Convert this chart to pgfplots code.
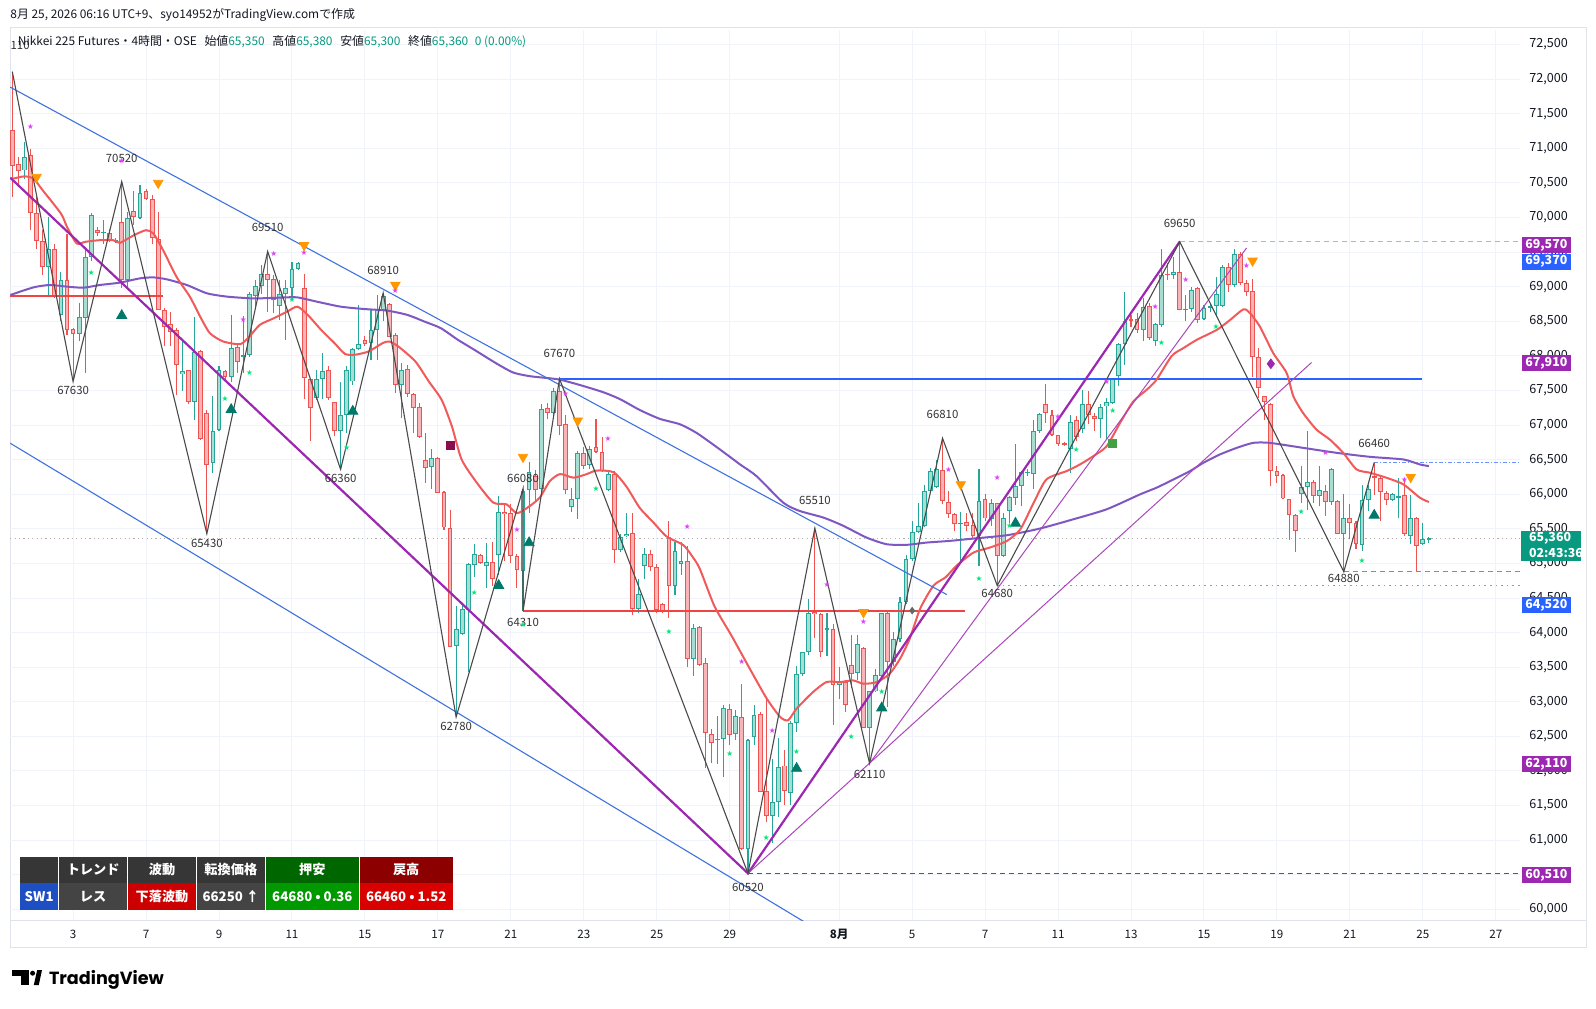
\documentclass[border=0pt]{standalone}
\usepackage{fontspec}
\setmainfont{Noto Sans CJK JP}
\newfontfamily\symfont{DejaVu Sans}
\newfontfamily\logofont{Poppins}
\usepackage{pgfplots}
\usepackage{pgfplotstable}
\pgfplotsset{compat=1.18}
\definecolor{gridc}{HTML}{F0F3FA}
\definecolor{framec}{HTML}{E0E3EB}
\definecolor{upB}{HTML}{26A69A}
\definecolor{upF}{HTML}{A8DDD2}
\definecolor{dnB}{HTML}{EF5350}
\definecolor{dnF}{HTML}{F8B4B7}
\definecolor{maR}{HTML}{F05A5A}
\definecolor{maP}{HTML}{7E57C2}
\definecolor{zig}{HTML}{4A4A4A}
\definecolor{chan}{HTML}{3F72E0}
\definecolor{trP}{HTML}{9C27B0}
\definecolor{hB}{HTML}{2962FF}
\definecolor{hR}{HTML}{EF4444}
\definecolor{triO}{HTML}{FF9800}
\definecolor{triT}{HTML}{00796B}
\definecolor{stM}{HTML}{E040FB}
\definecolor{stG}{HTML}{00E676}
\definecolor{sqM}{HTML}{880E4F}
\definecolor{sqG}{HTML}{43A047}
\definecolor{txt}{HTML}{131722}
\definecolor{tvg}{HTML}{089981}
\definecolor{boxP}{HTML}{9C27B0}
\definecolor{boxB}{HTML}{2962FF}
\definecolor{lbl}{HTML}{333333}
\definecolor{tgray}{HTML}{363636}
\definecolor{tgray2}{HTML}{444444}
\definecolor{swB}{HTML}{1E4FC2}
\tikzset{zl/.style={font=\fontsize{5.7}{6}\selectfont, text=lbl, inner sep=0pt}}

\pgfplotstableread{
i o h l c
0 71260 72110 70300 70750
1 70770 70870 70490 70680
2 70680 71090 70560 70880
3 70900 70990 69820 70070
4 70070 70300 69550 69660
5 69660 69820 69170 69280
6 69280 70010 68860 69550
7 69550 69620 68830 68860
8 68590 69220 68500 69100
9 69100 69770 68300 68380
10 68390 68400 67630 68320
11 68320 68760 68210 68560
12 68550 69580 67760 69430
13 69430 70060 69380 70030
14 69820 69860 69740 69780
15 69780 69960 69620 69790
16 69780 69840 69650 69660
17 69660 69710 69630 69680
18 69940 70520 68980 69100
19 69100 70080 69000 70000
20 70090 70390 69890 70010
21 70000 70470 69980 70350
22 70380 70420 70250 70270
23 70270 70320 69620 69700
24 69690 70080 68660 68670
25 68670 68700 68140 68420
26 68460 68640 68140 68350
27 68380 68400 67440 67870
28 67740 68210 67490 67780
29 67790 67800 67300 67340
30 67340 68570 67080 68060
31 68070 68090 66790 66800
32 67170 67220 65430 66430
33 66450 67420 66310 66910
34 66930 67850 66910 67790
35 67780 67800 67660 67700
36 67700 68590 67630 68110
37 68130 68190 67760 67910
38 67990 68570 67750 68010
39 68010 68930 67990 68900
40 68860 69100 68700 69010
41 69010 69310 68900 69190
42 69190 69510 68640 69100
43 69110 69170 68620 68810
44 68720 69100 68520 68890
45 68890 69100 68230 68980
46 68980 69360 68810 69250
47 69260 69360 69240 69350
48 68980 69190 67370 67680
49 67670 67670 66770 67250
50 67390 67800 67370 67660
51 67660 68040 67370 67780
52 67800 67850 67370 67390
53 67330 67340 66840 66920
54 66920 67630 66360 67150
55 67150 67850 66890 67800
56 67630 68110 67580 68100
57 68100 68740 68090 68170
58 68230 68290 68140 68170
59 68190 68660 67940 68380
60 68380 68880 67940 68660
61 68660 68910 68500 68860
62 68750 68760 68270 68280
63 68300 68330 67460 67580
64 67580 67900 67100 67800
65 67810 67870 67400 67450
66 67450 67460 66890 67250
67 67260 67320 66810 66830
68 66500 66890 66170 66380
69 66400 66660 66070 66530
70 66530 66540 66020 66020
71 66030 66050 65490 65520
72 65520 65780 63790 63800
73 63810 64390 62780 64050
74 63980 64410 63960 64340
75 64320 65010 63430 64990
76 64980 65280 64800 65140
77 65120 65140 64990 65010
78 64960 65300 64640 65020
79 65020 65310 64670 64780
80 65130 65980 64830 65740
81 65740 65880 65030 65710
82 65730 65860 65010 65110
83 65110 65140 64650 64900
84 64890 66080 64310 66050
85 66060 66470 65730 66320
86 66270 66350 65900 66060
87 66080 67300 66030 67230
88 67250 67320 67090 67170
89 67170 67530 67140 67500
90 67500 67670 66860 66990
91 67010 67140 66010 66060
92 65820 66090 65750 65930
93 65930 66630 65650 66600
94 66600 66680 66370 66410
95 66420 66700 66370 66650
96 66680 67090 66600 66610
97 66610 66830 66320 66340
98 66060 66340 66040 66290
99 66290 66330 65000 65200
100 65200 65420 65160 65380
101 65390 65730 65380 65430
102 65440 65730 64260 64340
103 64340 64770 64290 64560
104 64970 65230 64770 65140
105 65140 65190 64890 64950
106 64950 65000 64290 64330
107 64410 64430 64290 64300
108 65380 65620 64210 64670
109 64670 65310 64540 65180
110 65000 65310 64830 65040
111 65040 65260 63510 63620
112 63620 64130 63380 64060
113 64080 64090 63520 63540
114 63560 63640 62040 62550
115 62540 62610 62120 62410
116 62460 62800 62100 62460
117 62460 62960 61920 62910
118 62900 62970 62370 62520
119 62530 62880 62450 62800
120 62780 63260 60860 60880
121 60880 62470 60520 62450
122 62490 62950 62380 62810
123 62830 62850 61690 61700
124 61710 63040 61270 61350
125 61350 62180 60960 61550
126 61550 62470 61340 62060
127 62080 62300 61510 61710
128 61680 62730 61510 62690
129 62690 63520 62570 63400
130 63400 63720 63380 63720
131 63720 64490 63670 64290
132 64300 65510 63930 64270
133 64270 64290 63650 63720
134 64050 64290 63670 64060
135 64050 64130 62660 63250
136 63250 63500 63040 63290
137 63290 63310 62850 62950
138 63530 63960 63200 63410
139 63410 63970 63310 63840
140 63780 63790 62620 62620
141 62620 63160 62110 63150
142 63150 63480 63140 63390
143 63380 64290 63360 64280
144 64280 64300 62930 63570
145 63570 64010 63520 63910
146 63910 64510 63860 64440
147 64440 65130 64420 65060
148 65060 65620 65040 65450
149 65450 65880 65440 65540
150 65540 66140 65520 66050
151 66050 66380 66020 66340
152 66110 66500 66090 66370
153 66350 66810 65860 65900
154 65890 66050 65660 65720
155 65720 65730 65470 65570
156 65580 65740 65010 65590
157 65600 65730 65470 65540
158 65550 65730 65350 65400
159 65400 66370 64970 65900
160 65930 66000 65610 65650
161 65650 65930 65540 65880
162 65880 65880 64680 65110
163 65110 65730 65090 65660
164 65760 65980 65590 65960
165 65940 66720 65840 66120
166 66120 66330 65830 66320
167 66310 66360 66270 66320
168 66300 67070 66070 66910
169 66910 67180 66890 67160
170 67310 67600 67030 67180
171 67150 67220 66840 66860
172 66860 66860 66700 66720
173 66740 66750 66700 66720
174 66650 67150 66310 67050
175 67070 67130 66770 66830
176 66940 67510 66890 67300
177 67300 67490 67020 67140
178 67130 67170 66910 67090
179 67090 67300 66810 67260
180 67270 67390 66790 67330
181 67320 67660 67300 67660
182 67710 68190 67560 68170
183 68170 68930 67870 68510
184 68530 68590 68420 68510
185 68530 68620 68330 68380
186 68380 68830 68210 68710
187 68720 68760 68230 68260
188 68210 68470 68140 68460
189 68450 69540 68420 69170
190 69190 69340 69100 69170
191 69170 69430 69110 69220
192 69220 69650 68660 68660
193 68670 68880 68500 68680
194 68680 69000 68630 68960
195 68980 69000 68470 68520
196 68530 68740 68520 68700
197 68700 68760 68640 68720
198 68720 69140 68570 68900
199 68720 69310 68710 69290
200 69290 69340 68930 69020
201 69020 69550 69000 69480
202 69480 69500 69030 69050
203 69050 69100 68860 68930
204 68940 69110 67700 67980
205 67980 68110 67390 67540
206 67420 67420 67080 67330
207 67300 67320 66120 66340
208 66340 66410 66170 66270
209 66280 66290 65930 65940
210 65930 65930 65340 65700
211 65700 65710 65160 65470
212 66000 66410 65880 66100
213 66100 66910 65780 66180
214 66180 66210 65880 65970
215 65980 66410 65830 66060
216 66050 66140 65690 65890
217 65890 66380 65850 66360
218 65900 65920 65420 65420
219 65420 66010 64880 65660
220 65660 65860 65350 65590
221 65590 65610 65210 65280
222 65260 66140 65180 65920
223 65920 66140 65760 66080
224 66260 66460 65990 66240
225 66240 66260 65620 66030
226 66020 66040 65840 65920
227 65920 66020 65900 66010
228 65960 66240 65660 65970
229 65990 66240 65400 65420
230 65400 65990 65280 65660
231 65660 65670 64870 65250
232 65280 65590 65270 65360
233 65350 65380 65300 65360
}\candles

\newcommand\tabfont{\fontsize{6.6}{7}\selectfont\bfseries}
\newcommand\cell[6]{\fill[#5] (#1,#3) rectangle (#2,#4);
  \node[text=white, font=\tabfont, inner sep=0pt] at ({(#1+#2)/2},{(#3+#4)/2}) {#6};}

\begin{document}
\begin{tikzpicture}[x=1pt,y=1pt]
\useasboundingbox (0,0) rectangle (798,504);
\fill[white] (0,0) rectangle (798,504);
\draw[framec, line width=0.5pt] (5,30.5) rectangle (793,490);
\draw[framec, line width=0.5pt] (5,44) -- (793,44);

\begin{axis}[
  at={(5.1pt,44pt)}, anchor=south west, scale only axis,
  width=754.9pt, height=445pt,
  xmin=-0.345, xmax=247.98, ymin=59846, ymax=72711,
  axis line style={draw=none},
  tick style={draw=none}, major tick length=0pt,
  scaled y ticks=false, scaled x ticks=false,
  grid=major, major grid style={draw=gridc, line width=0.5pt},
  xtick={10,22,34,46,58,70,82,94,106,118,136,148,160,172,184,196,208,220,232,244},
  xticklabels={3,7,9,11,15,17,21,23,25,29,\textbf{8月},5,7,11,13,15,19,21,25,27},
  ytick={60000,60500,61000,61500,62000,62500,63000,63500,64000,64500,65000,65500,66000,66500,67000,67500,68000,68500,69000,69500,70000,70500,71000,71500,72000,72500},
  yticklabels={{60,000},{60,500},{61,000},{61,500},{62,000},{62,500},{63,000},{63,500},{64,000},{64,500},{65,000},{65,500},{66,000},{66,500},{67,000},{67,500},{68,000},{68,500},{69,000},{69,500},{70,000},{70,500},{71,000},{71,500},{72,000},{72,500}},
  yticklabel pos=right,
  xticklabel style={font=\fontsize{5.8}{7}\selectfont, text=txt, inner sep=0pt, anchor=base, yshift=-9.2pt},
  yticklabel style={font=\fontsize{6.3}{7}\selectfont, text=txt, inner sep=0pt, anchor=west, xshift=4.5pt},
  clip=true,
  candle/.style={draw=none, mark=none, forget plot},
]
% current price dotted line
\addplot[color=black!30, line width=0.5pt, dash pattern=on 0.6pt off 1.6pt] coordinates {(-0.345,65360)(247.98,65360)};

% wicks
\addplot[candle, restrict expr to domain={\thisrow{c}-\thisrow{o}}{0:100000},
  error bars/.cd, y dir=both, y explicit, error mark=none, error bar style={draw=upB, line width=0.55pt}]
  table[x=i, y expr={(\thisrow{h}+\thisrow{l})/2}, y error expr={(\thisrow{h}-\thisrow{l})/2}] {\candles};
\addplot[candle, restrict expr to domain={\thisrow{c}-\thisrow{o}}{-100000:-1},
  error bars/.cd, y dir=both, y explicit, error mark=none, error bar style={draw=dnB, line width=0.55pt}]
  table[x=i, y expr={(\thisrow{h}+\thisrow{l})/2}, y error expr={(\thisrow{h}-\thisrow{l})/2}] {\candles};
% body borders
\addplot[candle, restrict expr to domain={\thisrow{c}-\thisrow{o}}{0:100000},
  error bars/.cd, y dir=both, y explicit, error mark=none, error bar style={draw=upB, line width=2.4pt}]
  table[x=i, y expr={(\thisrow{o}+\thisrow{c})/2}, y error expr={max(abs(\thisrow{c}-\thisrow{o})/2,7)}] {\candles};
\addplot[candle, restrict expr to domain={\thisrow{c}-\thisrow{o}}{-100000:-1},
  error bars/.cd, y dir=both, y explicit, error mark=none, error bar style={draw=dnB, line width=2.4pt}]
  table[x=i, y expr={(\thisrow{o}+\thisrow{c})/2}, y error expr={max(abs(\thisrow{c}-\thisrow{o})/2,7)}] {\candles};
% body fills
\addplot[candle, restrict expr to domain={\thisrow{c}-\thisrow{o}}{0:100000},
  error bars/.cd, y dir=both, y explicit, error mark=none, error bar style={draw=upF, line width=1.4pt}]
  table[x=i, y expr={(\thisrow{o}+\thisrow{c})/2}, y error expr={max(abs(\thisrow{c}-\thisrow{o})/2-14,0)}] {\candles};
\addplot[candle, restrict expr to domain={\thisrow{c}-\thisrow{o}}{-100000:-1},
  error bars/.cd, y dir=both, y explicit, error mark=none, error bar style={draw=dnF, line width=1.4pt}]
  table[x=i, y expr={(\thisrow{o}+\thisrow{c})/2}, y error expr={max(abs(\thisrow{c}-\thisrow{o})/2-14,0)}] {\candles};

% horizontal levels
\addplot[hR, line width=1pt] coordinates {(-0.345,68871)(24.8,68871)};
\addplot[hR, line width=1pt] coordinates {(84,64310)(156.7,64310)};
\addplot[hB, line width=1.1pt] coordinates {(90,67670)(231.8,67670)};
\addplot[color=trP!45, line width=0.5pt, dash pattern=on 2.5pt off 2pt] coordinates {(192,69650)(247.98,69650)};
\addplot[color=maP!80!black, line width=0.5pt, dash pattern=on 2.5pt off 2pt] coordinates {(121,60520)(247.98,60520)};
\addplot[color=black!45, line width=0.5pt, dash pattern=on 2.5pt off 2pt] coordinates {(219,64880)(247.98,64880)};
\addplot[color=dnB!80, line width=0.7pt, dash pattern=on 0.8pt off 2pt] coordinates {(162,64680)(247.98,64680)};
\addplot[color=hB!70, line width=0.6pt, dash pattern=on 2pt off 1pt on 0.6pt off 1pt] coordinates {(224,66460)(247.98,66460)};

% moving averages
\addplot[maP, line width=1pt, smooth, tension=0.4] coordinates {
(-0.3,68881)(3.5,68991)(6.2,69025)(9,69001)(11.7,68986)(14.4,69025)(17.7,69059)(21,69121)(23.2,69135)(25.4,69107)(28.7,69025)(32,68905)(35.3,68857)(39,68833)(40.7,68832)(44,68842)(46.8,68847)(50.1,68784)(54,68712)(57.8,68678)(61.7,68654)(65,68592)(67.8,68496)(70.5,68400)(73.3,68232)(76,68088)(79.7,67887)(82.4,67759)(85.1,67707)(87.9,67681)(90.1,67656)(93.4,67578)(97.2,67475)(100,67373)(103.2,67218)(106.5,67090)(109.8,67012)(112.6,66884)(116.4,66647)(119.7,66431)(122.4,66263)(126.8,65879)(129.5,65759)(133.4,65663)(136.7,65543)(140.5,65374)(143.8,65278)(147.1,65269)(150.4,65302)(154.2,65326)(158.1,65360)(163.6,65408)(169,65504)(174.5,65638)(180,65783)(185.5,65999)(188.2,66095)(191,66215)(193.7,66335)(195.9,66455)(198.6,66575)(201.4,66671)(204.1,66743)(206.8,66743)(212.3,66671)(217.8,66599)(223.3,66541)(228.8,66503)(231.5,66431)(233,66407)};
\addplot[maR, line width=1pt, smooth, tension=0.4] coordinates {
(0,70560)(2,70595)(3.5,70562)(5,70394)(8,70058)(9,69865)(10.6,69625)(12,69649)(14.4,69673)(16.6,69673)(17.7,69634)(20,69745)(22,69817)(23.2,69769)(24.8,69529)(27,69145)(29.2,68857)(30.9,68568)(32.5,68328)(34.7,68208)(37.5,68170)(39,68280)(40.7,68448)(43,68544)(45.2,68640)(46.9,68712)(48.6,68592)(50.8,68376)(53,68184)(54.7,68030)(56.3,68016)(58.6,68064)(60.9,68184)(62,68208)(63.5,68136)(66.3,67919)(68.5,67631)(70.6,67367)(72.3,66983)(73.9,66503)(76.4,66167)(79.1,65880)(81.3,65854)(83,65726)(85.1,65829)(86.8,65957)(88.4,66189)(90.1,66292)(92.3,66240)(94.5,66292)(96.1,66343)(98.9,66318)(101,66112)(103.2,65803)(105.4,65597)(107.6,65391)(110.4,65263)(112,65082)(113.1,64918)(115.5,64380)(118.3,63955)(121.3,63478)(124.1,63045)(126.3,62781)(127.6,62733)(129,62901)(131.7,63141)(133.9,63285)(136.1,63285)(138.3,63309)(140,63261)(142.2,63285)(144.3,63405)(146,63621)(147.6,63910)(149.3,64342)(151.5,64678)(153.5,64800)(155.3,64966)(158.1,65158)(160.8,65230)(163.6,65326)(165.8,65494)(168,65879)(170.1,66215)(173.4,66335)(175.6,66431)(177.8,66551)(180,66695)(182.2,67032)(184.4,67344)(186.6,67512)(188.2,67656)(190.7,68000)(192.6,68112)(194.8,68232)(198.1,68376)(200.3,68520)(202.5,68674)(203.6,68616)(205.2,68424)(207.4,68040)(209.6,67752)(210.7,67416)(212.3,67175)(214.5,66935)(216.7,66791)(218.9,66599)(221.1,66359)(223.3,66311)(226,66239)(228.8,66143)(231.5,65951)(233,65888)};

% channel lines
\addplot[chan, line width=0.55pt] coordinates {(-0.345,71885)(153.7,64550)};
\addplot[chan, line width=0.55pt] coordinates {(-0.345,66738)(131,59780)};
% trend lines
\addplot[trP, line width=1.1pt] coordinates {(-0.345,70576)(121,60520)(192,69650)};
\addplot[trP!85, line width=0.5pt] coordinates {(141,62110)(203,69560)};
\addplot[trP!85, line width=0.5pt] coordinates {(121,60520)(213.7,67905)};

% zigzag
\addplot[zig, line width=0.55pt] coordinates {(0,72110)(10,67630)(18,70520)(32,65430)(42,69510)(54,66360)(61,68910)(73,62780)(84,66080)(84,64310)(90,67670)(121,60520)(132,65510)(141,62110)(153,66810)(162,64680)(192,69650)(219,64880)(224,66460)};

% markers
\addplot[only marks, mark=triangle*, mark size=2.7pt, mark options={rotate=180, fill=triO, draw=triO}] coordinates {(4,70586)(24,70499)(48,69601)(63,69024)(84,66539)(93,67064)(140,64294)(156,66143)(204,69375)(230,66248)};
\addplot[only marks, mark=triangle*, mark size=2.9pt, mark options={fill=triT, draw=triT}] coordinates {(18,68583)(36,67224)(56,67199)(80,64681)(85,65299)(129,62037)(143,62911)(165,65581)(224,65696)};
\addplot[only marks, mark=text, text mark={★}, text mark as node=true, text mark style={font=\symfont\fontsize{3.8}{3.8}\selectfont, text=stM, inner sep=0pt}] coordinates {(3,71306)(18,70816)(38,68520)(43,69480)(48,69495)(63,68937)(83,65494)(91,67450)(98,66806)(111,65535)(120,63583)(125,62575)(134,64688)(140,64150)(154,66359)(162,66239)(172,67127)(180,67622)(188,68703)(193,69106)(203,69298)(216,66599)(229,66215)};
\addplot[only marks, mark=text, text mark={★}, text mark as node=true, text mark style={font=\symfont\fontsize{3.8}{3.8}\selectfont, text=stG, inner sep=0pt}] coordinates {(13,69207)(35,67377)(39,67752)(46,68818)(55,66671)(76,64581)(84,64115)(96,66086)(108,64012)(118,62252)(124,61037)(129,62277)(138,62493)(143,63141)(159,64774)(164,65542)(175,66647)(181,67214)(189,68184)(198,68415)(212,65749)(222,65038)};
\addplot[only marks, mark=square*, mark size=2pt, mark options={fill=sqM, draw=sqM}] coordinates {(72,66709)};
\addplot[only marks, mark=square*, mark size=2pt, mark options={fill=sqG, draw=sqG}] coordinates {(181,66729)};
\addplot[only marks, mark=diamond*, mark size=2.4pt, mark options={fill=trP, draw=trP}] coordinates {(207,67886)};
\addplot[only marks, mark=diamond*, mark size=1.6pt, mark options={fill=black!60, draw=black!60}] coordinates {(148,64318)};

% pivot labels
\node[zl, yshift=11.7pt] at (axis cs:18,70520) {70520};
\node[zl, yshift=12pt] at (axis cs:42,69510) {69510};
\node[zl, yshift=11.5pt] at (axis cs:61,68910) {68910};
\node[zl, yshift=5.3pt] at (axis cs:84,66080) {66080};
\node[zl, yshift=12.5pt] at (axis cs:90,67670) {67670};
\node[zl, yshift=14pt] at (axis cs:132,65510) {65510};
\node[zl, yshift=12pt] at (axis cs:153,66810) {66810};
\node[zl, yshift=9pt] at (axis cs:192,69650) {69650};
\node[zl, yshift=9.5pt] at (axis cs:224,66460) {66460};
\node[zl, yshift=-4.6pt] at (axis cs:10,67630) {67630};
\node[zl, yshift=-5pt] at (axis cs:32,65430) {65430};
\node[zl, yshift=-4.3pt] at (axis cs:54,66360) {66360};
\node[zl, yshift=-4.75pt] at (axis cs:73,62780) {62780};
\node[zl, yshift=-5.4pt] at (axis cs:84,64310) {64310};
\node[zl, yshift=-6.9pt] at (axis cs:121,60520) {60520};
\node[zl, yshift=-5.3pt] at (axis cs:141,62110) {62110};
\node[zl, yshift=-3.9pt] at (axis cs:162,64680) {64680};
\node[zl, yshift=-3.3pt] at (axis cs:219,64880) {64880};
\end{axis}

% top-left cut label
\node[anchor=west, inner sep=0pt, font=\fontsize{5.7}{6}\selectfont, text=lbl] at (5.1,481.5) {110};
% header lines
\node[anchor=west, inner sep=0pt, font=\fontsize{5.95}{7}\selectfont, text=txt] at (5,496.5) {8月 25, 2026 06:16 UTC+9、syo14952がTradingView.comで作成};
\node[anchor=west, inner sep=0pt, font=\fontsize{5.95}{7}\selectfont, text=txt] at (8.8,483) {Nikkei 225 Futures・4時間・OSE\hspace{0.65em}始値\textcolor{tvg}{65,350}\hspace{0.65em}高値\textcolor{tvg}{65,380}\hspace{0.65em}安値\textcolor{tvg}{65,300}\hspace{0.65em}終値\textcolor{tvg}{65,360}\hspace{0.55em}\textcolor{tvg}{0 (0.00\%)}};

% price boxes
\tikzset{pbox/.style={text=white, anchor=west, minimum width=24.2pt, minimum height=8pt, inner sep=0pt, font=\fontsize{6.2}{7}\selectfont\bfseries}}
\node[pbox, fill=boxP] at (760.85,381.5) {69,570};
\node[pbox, fill=boxB] at (760.85,373.2) {69,370};
\node[pbox, fill=boxP] at (760.85,322.5) {67,910};
\node[pbox, fill=boxB] at (760.85,201.3) {64,520};
\node[pbox, fill=boxP] at (760.85,121.9) {62,110};
\node[pbox, fill=boxP] at (760.85,66.4) {60,510};
\fill[tvg] (760.5,223.65) rectangle (790.35,238.65);
\node[anchor=west, inner sep=0pt, text=white, font=\fontsize{6.2}{7}\selectfont\bfseries] at (764.3,234.6) {65,360};
\node[anchor=west, inner sep=0pt, text=white, font=\fontsize{6.2}{7}\selectfont\bfseries] at (764.3,227.4) {02:43:36};

% info table
\cell{10}{29.15}{62.65}{75.65}{tgray}{}
\cell{29.5}{63.65}{62.65}{75.65}{tgray}{トレンド}
\cell{64}{98}{62.65}{75.65}{tgray}{波動}
\cell{98.35}{132.5}{62.65}{75.65}{tgray}{転換価格}
\cell{132.85}{179.5}{62.65}{75.65}{green!40!black}{押安}
\cell{179.85}{226.35}{62.65}{75.65}{red!55!black}{戻高}
\cell{10}{29.15}{49}{62.35}{swB}{SW1}
\cell{29.5}{63.65}{49}{62.35}{tgray2}{レス}
\cell{64}{98}{49}{62.35}{red!80!black}{下落波動}
\cell{98.35}{132.5}{49}{62.35}{tgray2}{66250 ↑}
\cell{132.85}{179.5}{49}{62.35}{green!60!black}{64680 • 0.36}
\cell{179.85}{226.35}{49}{62.35}{red!85!black}{66460 • 1.52}

% TradingView logo
\fill[black] (5.85,16.15) rectangle (14.65,19);
\fill[black] (10.35,11.5) rectangle (14.65,19);
\fill[black] (16.3,17.4) circle (1.25);
\fill[black] (16.9,11.5) -- (19.4,11.5) -- (21,19) -- (18.6,19) -- cycle;
\node[anchor=base west, inner sep=0pt, font=\logofont\bfseries\fontsize{8.8}{9}\selectfont] at (24.3,11.6) {TradingView};
\end{tikzpicture}
\end{document}
